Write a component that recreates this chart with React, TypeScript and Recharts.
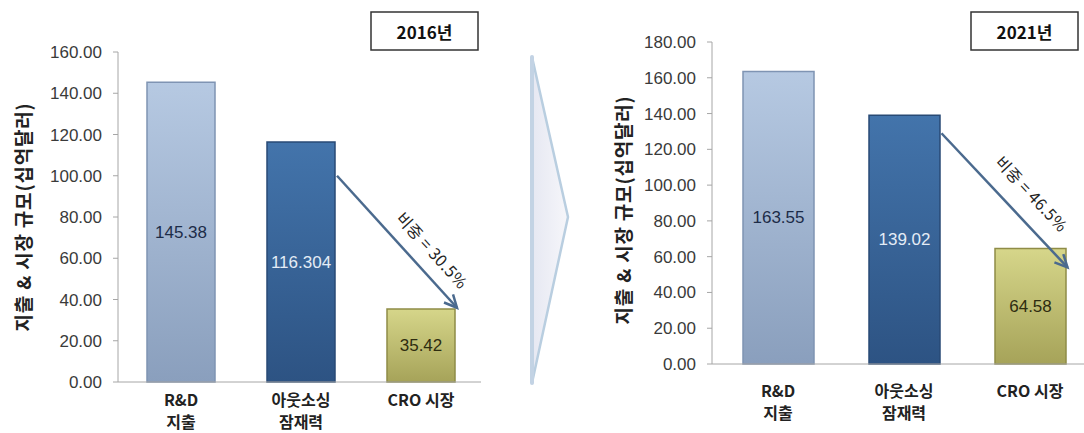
import React from "react";
import { BarChart, Bar, XAxis, YAxis, Cell, LabelList, ReferenceLine } from "recharts";

const categories = ["R&D\n지출", "아웃소싱\n잠재력", "CRO 시장"];
const values2016 = [145.38, 116.304, 35.42];
const values2021 = [163.55, 139.02, 64.58];
const ticks2016 = [0, 20, 40, 60, 80, 100, 120, 140, 160];
const ticks2021 = [0, 20, 40, 60, 80, 100, 120, 140, 160, 180];
// arrow from bar 2 to bar 3 (start value, end value)
const arrow2016 = [100, 36];
const arrow2021 = [129, 54];
const share2016 = "비중 = 30.5%";
const share2021 = "비중 = 46.5%";
const yTitle = "지출 & 시장 규모(십억달러)";

const KR = "'Noto Sans CJK KR', 'Noto Sans', sans-serif";
const NUM = "Arial, 'Liberation Sans', sans-serif";
const barEdges = ["#7f94b3", "#284a75", "#8f8c47"];
const valueColors = ["#1c2c48", "#e4ecf6", "#2e2c10"];
const axisGray = "#a6a6a6";

// two-line category label, one text element
const CategoryTick = (props: any) => {
  const { x, y, payload, first, gap } = props;
  const lines = String(payload.value).split("\n");
  return (
    <text x={x} y={y + first} textAnchor="middle" dominantBaseline="central"
      fontFamily={KR} fontWeight={700} fontSize={16} fill="#222">
      {lines.map((t: string, i: number) => (
        <tspan key={i} x={x} dy={i === 0 ? 0 : gap}>{t}</tspan>
      ))}
    </text>
  );
};

const renderValue = (props: any) => {
  const { x, y, width, height, value, index } = props;
  return (
    <text x={x + width / 2} y={y + height / 2} textAnchor="middle" dominantBaseline="central"
      fontFamily={NUM} fontSize={17} fill={valueColors[index]}>{String(value)}</text>
  );
};

const ShareArrow = (props: any) => {
  const { x1, y1, x2, y2, shift, text, along, perp } = props;
  const ax = x1 + shift, bx = x2 + shift;
  const dx = bx - ax, dy = y2 - y1;
  const len = Math.hypot(dx, dy);
  const ux = dx / len, uy = dy / len;
  const ang = Math.atan2(dy, dx);
  const h = 14, sp = 0.45;
  const hx1 = bx - h * Math.cos(ang - sp), hy1 = y2 - h * Math.sin(ang - sp);
  const hx2 = bx - h * Math.cos(ang + sp), hy2 = y2 - h * Math.sin(ang + sp);
  const cx = (ax + bx) / 2 + along * ux + perp * uy;
  const cy = (y1 + y2) / 2 + along * uy - perp * ux;
  return (
    <g>
      <line x1={ax} y1={y1} x2={bx} y2={y2} stroke="#4b6a8e" strokeWidth={2.5} />
      <polyline points={`${hx1},${hy1} ${bx},${y2} ${hx2},${hy2}`} fill="none" stroke="#4b6a8e" strokeWidth={2.5} />
      <text x={cx} y={cy} textAnchor="middle" dominantBaseline="central" fontFamily={KR} fontSize={16}
        fill="#222" letterSpacing={0.5} transform={`rotate(${(ang * 180) / Math.PI} ${cx} ${cy})`}>{text}</text>
    </g>
  );
};

function Panel(p: any) {
  const data = categories.map((c, i) => ({ name: c, value: p.values[i] }));
  return (
    <div style={{ position: "absolute", left: p.left, top: 0 }}>
      <BarChart width={p.width} height={433} data={data} margin={p.margin}>
        <XAxis dataKey="name" stroke={axisGray} tickLine={false} tickSize={0} tickMargin={0}
          height={p.xHeight} padding={{ left: 3, right: 0 }} interval={0}
          tick={(t: any) => <CategoryTick {...t} first={p.first} gap={p.gap} />} />
        <YAxis width={p.yWidth} domain={[0, p.ticks[p.ticks.length - 1]]} ticks={p.ticks} stroke={axisGray}
          tickSize={5} tickMargin={11} tickFormatter={(v: number) => v.toFixed(2)}
          tick={{ fill: "#3a3a3a", fontSize: 17, fontFamily: NUM }} />
        <Bar dataKey="value" barSize={p.barSize} isAnimationActive={false}>
          {data.map((d, i) => (
            <Cell key={`cell-${i}`} fill={`url(#barGrad${i})`} stroke={barEdges[i]} strokeWidth={1.5} />
          ))}
          <LabelList dataKey="value" content={renderValue} />
        </Bar>
        <ReferenceLine
          segment={[{ x: categories[1], y: p.arrow[0] }, { x: categories[2], y: p.arrow[1] }]}
          shape={(s: any) => (
            <ShareArrow {...s} shift={p.barSize / 2 + 2} text={p.share} along={p.along} perp={p.perp} />
          )}
        />
      </BarChart>
    </div>
  );
}

export default function App() {
  return (
    <div style={{ position: "absolute", left: 0, top: 0, width: 1084, height: 433, overflow: "hidden", background: "#fff" }}>
      <svg width={0} height={0} style={{ position: "absolute" }}>
        <defs>
          <linearGradient id="barGrad0" x1="0" y1="0" x2="0" y2="1">
            <stop offset="0%" stopColor="#b6c9e2" />
            <stop offset="100%" stopColor="#8a9fbd" />
          </linearGradient>
          <linearGradient id="barGrad1" x1="0" y1="0" x2="0" y2="1">
            <stop offset="0%" stopColor="#4374ab" />
            <stop offset="100%" stopColor="#2d5383" />
          </linearGradient>
          <linearGradient id="barGrad2" x1="0" y1="0" x2="0" y2="1">
            <stop offset="0%" stopColor="#d6d68a" />
            <stop offset="100%" stopColor="#a6a359" />
          </linearGradient>
          <linearGradient id="chevFill" x1="0" y1="0" x2="1" y2="0">
            <stop offset="0%" stopColor="#e6e8f2" />
            <stop offset="100%" stopColor="#f6f6fa" />
          </linearGradient>
        </defs>
      </svg>

      <Panel left={0} width={540} values={values2016} ticks={ticks2016}
        margin={{ top: 52, right: 59, bottom: 11, left: 0 }} yWidth={118} xHeight={40}
        barSize={68} first={17} gap={22} arrow={arrow2016} share={share2016} along={30} perp={21} />
      <Panel left={540} width={556} values={values2021} ticks={ticks2021}
        margin={{ top: 42, right: 3, bottom: 19, left: 0 }} yWidth={172} xHeight={50}
        barSize={71} first={26} gap={22} arrow={arrow2021} share={share2021} along={14} perp={25} />

      <svg width={1084} height={433} style={{ position: "absolute", left: 0, top: 0, pointerEvents: "none" }}>
        <polygon points="532,57 568,217 532,383" fill="url(#chevFill)" stroke="#b9cee0" strokeWidth={2.5} strokeLinejoin="round" />
        <line x1={532} y1={57} x2={532} y2={383} stroke="#c3d3e4" strokeWidth={4} strokeLinecap="round" />
        <text x={22} y={217} textAnchor="middle" dominantBaseline="central" fontFamily={KR} fontWeight={700}
          fontSize={19} letterSpacing={0.8} fill="#222" transform="rotate(-90 22 217)">{yTitle}</text>
        <text x={622} y={210} textAnchor="middle" dominantBaseline="central" fontFamily={KR} fontWeight={700}
          fontSize={19} letterSpacing={0.8} fill="#222" transform="rotate(-90 622 210)">{yTitle}</text>
        <rect x={371} y={12} width={107} height={38} fill="#fff" stroke="#333" strokeWidth={1.5} />
        <text x={424.5} y={31} textAnchor="middle" dominantBaseline="central" fontFamily={KR} fontWeight={700}
          fontSize={17} fill="#111">2016년</text>
        <rect x={971} y={12} width={107} height={38} fill="#fff" stroke="#333" strokeWidth={1.5} />
        <text x={1024.5} y={31} textAnchor="middle" dominantBaseline="central" fontFamily={KR} fontWeight={700}
          fontSize={17} fill="#111">2021년</text>
      </svg>
    </div>
  );
}
